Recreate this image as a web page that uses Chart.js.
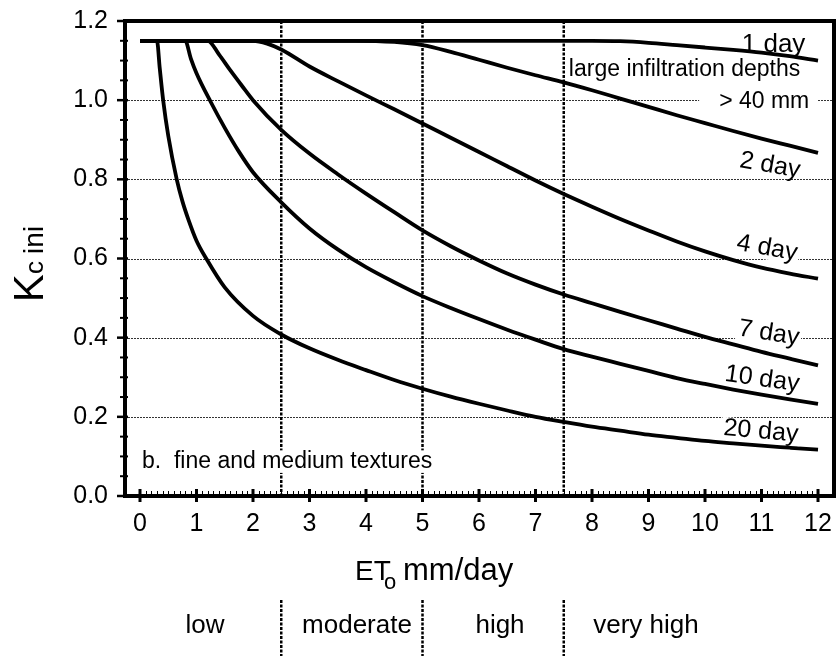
<!DOCTYPE html>
<html>
<head>
<meta charset="utf-8">
<script src="https://cdn.jsdelivr.net/npm/chart.js@4/dist/chart.umd.min.js"></script>
<style>html,body{margin:0;padding:0;background:#fff}canvas{display:block}</style>
</head>
<body>
<canvas id="c" width="837" height="657"></canvas>
<script>
// ---- data ----
const seriesNames = ['1 day', '2 day', '4 day', '7 day', '10 day', '20 day'];
const day1X = [0, 8, 8.5, 9, 9.5, 10, 10.5, 11, 11.5, 12];
const day1Y = [1.15, 1.15, 1.149, 1.145, 1.139, 1.133, 1.127, 1.12, 1.111, 1.10];
const day2X = [0, 3.8, 4.5, 5, 5.5, 6, 6.5, 7, 7.5, 8, 8.5, 9, 9.5, 10, 10.5, 11, 11.5, 12];
const day2Y = [1.15, 1.15, 1.147, 1.139, 1.122, 1.102, 1.082, 1.063, 1.045, 1.025, 1.004, 0.983, 0.962, 0.942, 0.922, 0.903, 0.885, 0.867];
const day4X = [0, 2, 2.25, 2.5, 3, 3.5, 4, 4.5, 5, 5.5, 6, 6.5, 7, 7.5, 8, 8.5, 9, 9.5, 10, 10.5, 11, 11.5, 12];
const day4Y = [1.15, 1.15, 1.143, 1.128, 1.085, 1.048, 1.012, 0.977, 0.941, 0.905, 0.869, 0.833, 0.797, 0.763, 0.731, 0.70, 0.671, 0.643, 0.618, 0.596, 0.577, 0.562, 0.549];
const day7X = [0, 1.2, 1.4, 1.6, 1.8, 2, 2.5, 3, 3.5, 4, 4.5, 5, 5.5, 6, 6.5, 7, 7.5, 8, 8.5, 9, 9.5, 10, 10.5, 11, 11.5, 12];
const day7Y = [1.15, 1.15, 1.115, 1.075, 1.037, 1.0, 0.925, 0.865, 0.813, 0.764, 0.717, 0.671, 0.631, 0.595, 0.562, 0.534, 0.509, 0.487, 0.465, 0.444, 0.423, 0.402, 0.383, 0.364, 0.347, 0.33];
const day10X = [0, 0.8, 0.9, 1, 1.25, 1.5, 1.75, 2, 2.5, 3, 3.5, 4, 4.5, 5, 5.5, 6, 6.5, 7, 7.5, 8, 8.5, 9, 9.5, 10, 10.5, 11, 11.5, 12];
const day10Y = [1.15, 1.15, 1.105, 1.068, 0.996, 0.93, 0.87, 0.818, 0.742, 0.676, 0.623, 0.578, 0.54, 0.505, 0.475, 0.447, 0.42, 0.395, 0.371, 0.352, 0.334, 0.316, 0.298, 0.283, 0.269, 0.256, 0.244, 0.233];
const day20X = [0, 0.3, 0.35, 0.41, 0.5, 0.65, 0.75, 0.86, 1, 1.18, 1.5, 2, 2.5, 3, 3.5, 4, 4.5, 5, 5.5, 6, 6.5, 7, 7.5, 8, 8.5, 9, 9.5, 10, 10.5, 11, 11.5, 12];
const day20Y = [1.15, 1.15, 1.08, 1.0, 0.91, 0.8, 0.745, 0.697, 0.645, 0.598, 0.527, 0.455, 0.408, 0.373, 0.344, 0.318, 0.293, 0.271, 0.251, 0.233, 0.216, 0.2, 0.187, 0.175, 0.165, 0.155, 0.147, 0.139, 0.133, 0.127, 0.122, 0.117];

const xTickValues = [0, 1, 2, 3, 4, 5, 6, 7, 8, 9, 10, 11, 12];
const yTickValues = [0, 0.2, 0.4, 0.6, 0.8, 1.0, 1.2];
const yGridValues = [0.2, 0.4, 0.6, 0.8, 1.0];
const zoneBounds = [2.5, 5, 7.5];
const zoneLabels = ['low', 'moderate', 'high', 'very high'];

// ---- chart ----
const FONT = "'Liberation Sans', Arial, Helvetica, sans-serif";
const xs = [day1X, day2X, day4X, day7X, day10X, day20X];
const ys = [day1Y, day2Y, day4Y, day7Y, day10Y, day20Y];

const datasets = seriesNames.map((name, k) => ({
  label: name,
  data: xs[k].map((x, i) => ({ x: x, y: ys[k][i] })),
  borderColor: '#000',
  borderWidth: 3.8,
  pointRadius: 0,
  fill: false,
  cubicInterpolationMode: 'monotone',
  borderJoinStyle: 'round'
}));

function drawText(ctx, text, px, py, size, o) {
  o = o || {};
  ctx.save();
  ctx.font = size + 'px ' + FONT;
  ctx.translate(px, py);
  if (o.rot) ctx.rotate(o.rot * Math.PI / 180);
  ctx.textAlign = o.align || 'left';
  ctx.textBaseline = o.baseline || 'alphabetic';
  if (o.bg) {
    const w = ctx.measureText(text).width;
    let x0 = o.align === 'center' ? -w / 2 : 0;
    let y0, h;
    if (o.baseline === 'middle') { y0 = -size * 0.45; h = size * 0.9; }
    else { y0 = -size * 0.78; h = size * 0.98; }
    ctx.fillStyle = '#fff';
    ctx.fillRect(x0 - (o.padL || 2), y0, w + (o.padL || 2) + (o.padR || 2), h);
  }
  ctx.fillStyle = '#000';
  ctx.fillText(text, 0, 0);
  ctx.restore();
}

const decor = {
  id: 'decor',
  beforeDraw(chart) {
    const c = chart.ctx;
    c.save(); c.fillStyle = '#fff'; c.fillRect(0, 0, chart.width, chart.height); c.restore();
  },
  beforeDatasetsDraw(chart) {
    const { ctx, chartArea: a, scales: { x, y } } = chart;
    ctx.save();
    ctx.strokeStyle = '#333'; ctx.lineWidth = 1; ctx.setLineDash([2, 1]);
    yGridValues.forEach(v => {
      const py = Math.round(y.getPixelForValue(v)) + 0.5;
      ctx.beginPath(); ctx.moveTo(a.left, py); ctx.lineTo(a.right, py); ctx.stroke();
    });
    ctx.strokeStyle = '#000'; ctx.lineWidth = 2.5; ctx.setLineDash([3, 1.5]);
    zoneBounds.forEach(v => {
      const px = x.getPixelForValue(v);
      ctx.beginPath(); ctx.moveTo(px, a.top); ctx.lineTo(px, a.bottom); ctx.stroke();
      ctx.beginPath(); ctx.moveTo(px, a.bottom + 104); ctx.lineTo(px, a.bottom + 160); ctx.stroke();
    });
    ctx.restore();
  },
  afterDatasetsDraw(chart) {
    const { ctx, chartArea: a, scales: { x, y } } = chart;
    const X = v => x.getPixelForValue(v), Y = v => y.getPixelForValue(v);

    // annotations
    drawText(ctx, '1 day', X(10.65), Y(1.121), 26);
    drawText(ctx, 'large infiltration depths', X(7.59), Y(1.06), 23);
    drawText(ctx, '> 40 mm', X(10.25), Y(0.98), 23, { bg: true, padL: 20, padR: 8 });
    drawText(ctx, '2 day', X(11.15), Y(0.835), 25, { align: 'center', baseline: 'middle', rot: 10 });
    drawText(ctx, '4 day', X(11.10), Y(0.626), 25, { align: 'center', baseline: 'middle', rot: 10, bg: true });
    drawText(ctx, '7 day', X(11.13), Y(0.411), 25, { align: 'center', baseline: 'middle', rot: 9, bg: true });
    drawText(ctx, '10 day', X(11.01), Y(0.295), 25, { align: 'center', baseline: 'middle', rot: 8 });
    drawText(ctx, '20 day', X(10.99), Y(0.163), 25, { align: 'center', baseline: 'middle', rot: 5, bg: true });
    drawText(ctx, 'b.  fine and medium textures', X(0.035), Y(0.07), 23, { bg: true, padL: 4, padR: 3 });

    ctx.save();
    ctx.setLineDash([]);
    ctx.strokeStyle = '#000';
    // frame
    ctx.lineWidth = 4;
    ctx.strokeRect(a.left, a.top, a.right - a.left, a.bottom - a.top);
    // y ticks
    for (let i = 0; i < yTickValues.length; i++) {
      const py = Y(yTickValues[i]);
      ctx.lineWidth = 2.5;
      ctx.beginPath(); ctx.moveTo(a.left - 8, py); ctx.lineTo(a.left + 3, py); ctx.stroke();
      if (i < yTickValues.length - 1) {
        const step = (yTickValues[i + 1] - yTickValues[i]) / 4;
        for (let k = 1; k < 4; k++) {
          const pm = Y(yTickValues[i] + k * step);
          ctx.lineWidth = 2;
          ctx.beginPath(); ctx.moveTo(a.left - 5, pm); ctx.lineTo(a.left + 3, pm); ctx.stroke();
        }
      }
    }
    // x ticks
    for (let i = 0; i < xTickValues.length; i++) {
      const px = X(xTickValues[i]);
      ctx.lineWidth = 3;
      ctx.beginPath(); ctx.moveTo(px, a.bottom - 7); ctx.lineTo(px, a.bottom + 6); ctx.stroke();
      if (i < xTickValues.length - 1) {
        const step = (xTickValues[i + 1] - xTickValues[i]) / 10;
        for (let k = 1; k < 10; k++) {
          const pm = Math.round(X(xTickValues[i] + k * step)) + 0.5;
          ctx.lineWidth = 1;
          ctx.beginPath(); ctx.moveTo(pm, a.bottom - 5); ctx.lineTo(pm, a.bottom); ctx.stroke();
        }
      }
    }
    ctx.restore();

    // x-axis title: ET_o mm/day
    const bx = 355, by = a.bottom + 84;
    drawText(ctx, 'ET', bx, by, 28);
    drawText(ctx, 'o', bx + 29, by + 9, 22);
    drawText(ctx, 'mm/day', bx + 48, by, 31);

    // y-axis title: K_c ini
    ctx.save();
    ctx.translate(43, 264);
    ctx.rotate(-Math.PI / 2);
    ctx.fillStyle = '#000';
    ctx.textBaseline = 'alphabetic';
    ctx.font = '42px ' + FONT;
    const wK = ctx.measureText('K').width;
    ctx.font = '26px ' + FONT;
    const wc = ctx.measureText('c ').width;
    ctx.font = '28px ' + FONT;
    const wi = ctx.measureText('ini').width;
    let sx = -(wK + wc + wi) / 2;
    ctx.font = '42px ' + FONT; ctx.fillText('K', sx, 0); sx += wK;
    ctx.font = '26px ' + FONT; ctx.fillText('c ', sx, 0); sx += wc;
    ctx.font = '28px ' + FONT; ctx.fillText('ini', sx, 0);
    ctx.restore();

    // ETo class band
    const zoneCenters = [205, 357, 500, 646];
    zoneLabels.forEach((t, i) => drawText(ctx, t, zoneCenters[i], a.bottom + 137, 26, { align: 'center' }));
  }
};

new Chart(document.getElementById('c').getContext('2d'), {
  type: 'line',
  data: { datasets: datasets },
  options: {
    responsive: false,
    animation: false,
    devicePixelRatio: 1,
    layout: { padding: { left: 0, top: 21, right: 3, bottom: 0 } },
    plugins: { legend: { display: false }, tooltip: { enabled: false } },
    scales: {
      x: {
        type: 'linear', min: -0.2655, max: 12.283,
        grid: { display: false, drawTicks: false },
        border: { display: false },
        afterBuildTicks: s => { s.ticks = xTickValues.map(v => ({ value: v })); },
        ticks: { autoSkip: false, maxRotation: 0, padding: 13, color: '#000',
                 font: { family: FONT, size: 25 }, callback: v => String(v) },
        afterFit: s => { s.height = 161; s.paddingLeft = 0; s.paddingRight = 0; }
      },
      y: {
        type: 'linear', min: 0, max: 1.2,
        grid: { display: false, drawTicks: false },
        border: { display: false },
        afterBuildTicks: s => { s.ticks = yTickValues.map(v => ({ value: v })); },
        ticks: { autoSkip: false, padding: 17, color: '#000',
                 font: { family: FONT, size: 25 }, callback: v => Number(v).toFixed(1) },
        afterFit: s => { s.width = 125; s.paddingTop = 0; s.paddingBottom = 0; }
      }
    }
  },
  plugins: [decor]
});
</script>
</body>
</html>
